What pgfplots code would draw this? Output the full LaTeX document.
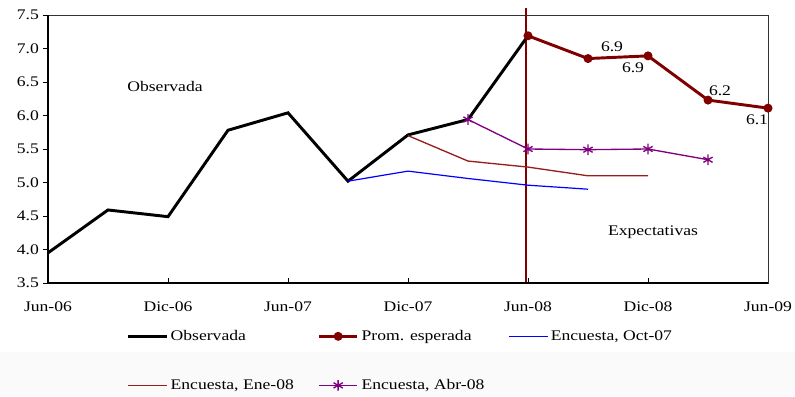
\documentclass[border=0pt]{standalone}
\usepackage{fontspec}
\setmainfont{Liberation Serif}[FakeStretch=1.2]
\usepackage{pgfplots}
\pgfplotsset{compat=1.18}
\definecolor{promred}{RGB}{128,0,0}
\definecolor{enered}{RGB}{150,30,30}
\definecolor{abrpurple}{RGB}{128,0,128}
\definecolor{octblue}{RGB}{0,0,255}

\begin{document}
\fontsize{11}{13}\selectfont
\begin{tikzpicture}
\fill[black!2] (-36pt,-84.75pt) rectangle (560.25pt,-52pt);
\useasboundingbox (-36pt,-84.75pt) rectangle (560.25pt,212.25pt);
\begin{axis}[
    scale only axis,
    width=540pt,
    height=201pt,
    xmin=0, xmax=36,
    ymin=3.5, ymax=7.5,
    xtick={0,6,...,36},
    xticklabels={Jun-06,Dic-06,Jun-07,Dic-07,Jun-08,Dic-08,Jun-09},
    ytick={3.5,4,...,7.5},
    yticklabel style={xshift=-3pt, /pgf/number format/.cd, fixed, fixed zerofill, precision=1},
    /pgf/number format/assume math mode=true,
    tick pos=left,
    tick align=inside,
    major tick length=3.75pt,
    tick style={black, line width=0.6pt},
    y tick style={xshift=-3.75pt},
    xticklabel style={yshift=-10pt},
    axis line style={black!80, line width=0.6pt},
    clip=false,
    legend columns=3,
    legend cell align=left,
    legend style={
        at={(0.103,-0.155)}, anchor=north west,
        draw=none, fill=none,
        row sep=23.5pt,
        /tikz/every even column/.append style={column sep=0pt},
    },
    legend image code/.code={
        \draw[mark repeat=2, mark phase=2, #1]
            plot coordinates {(0pt,0pt) (14.5pt,0pt) (29pt,0pt)};
    },
]
\draw[promred, line width=0.8pt] (axis cs:23.9,3.5) -- (axis cs:23.9,7.6);
\draw[black, line width=1.6pt] (rel axis cs:0,1) -- (rel axis cs:0,0) -- (rel axis cs:1,0);

\addplot[black, line width=2.2pt, no marks] coordinates {
    (0,3.95) (3,4.59) (6,4.49) (9,5.78) (12,6.04) (15,5.02) (18,5.71) (21,5.94) (24,7.19)
};
\addlegendentry{\makebox[108pt][l]{Observada}}

\addplot[promred, line width=2.2pt, mark=*, mark size=2.2pt] coordinates {
    (24,7.19) (27,6.85) (30,6.89) (33,6.23) (36,6.11)
};
\addlegendentry{\makebox[108pt][l]{Prom. esperada}}

\addplot[octblue, line width=0.9pt, no marks] coordinates {
    (15,5.02) (18,5.17) (21,5.06) (24,4.96) (27,4.90)
};
\addlegendentry{Encuesta, Oct-07}

\addplot[enered, line width=1pt, no marks] coordinates {
    (18,5.70) (21,5.32) (24,5.23) (27,5.10) (30,5.10)
};
\addlegendentry{\makebox[108pt][l]{Encuesta, Ene-08}}

\addplot[abrpurple, line width=1pt, mark=asterisk, mark size=4pt,
    mark options={line width=1pt}] coordinates {
    (21,5.94) (24,5.50) (27,5.49) (30,5.50) (33,5.34)
};
\addlegendentry{Encuesta, Abr-08}

\node at (axis cs:28.2,7.02) {6.9};
\node at (axis cs:29.25,6.71) {6.9};
\node at (axis cs:33.6,6.37) {6.2};
\node at (axis cs:35.45,5.93) {6.1};
\node at (axis cs:5.85,6.43) {Observada};
\node at (axis cs:30.25,4.26) {Expectativas};
\end{axis}
\end{tikzpicture}
\end{document}
